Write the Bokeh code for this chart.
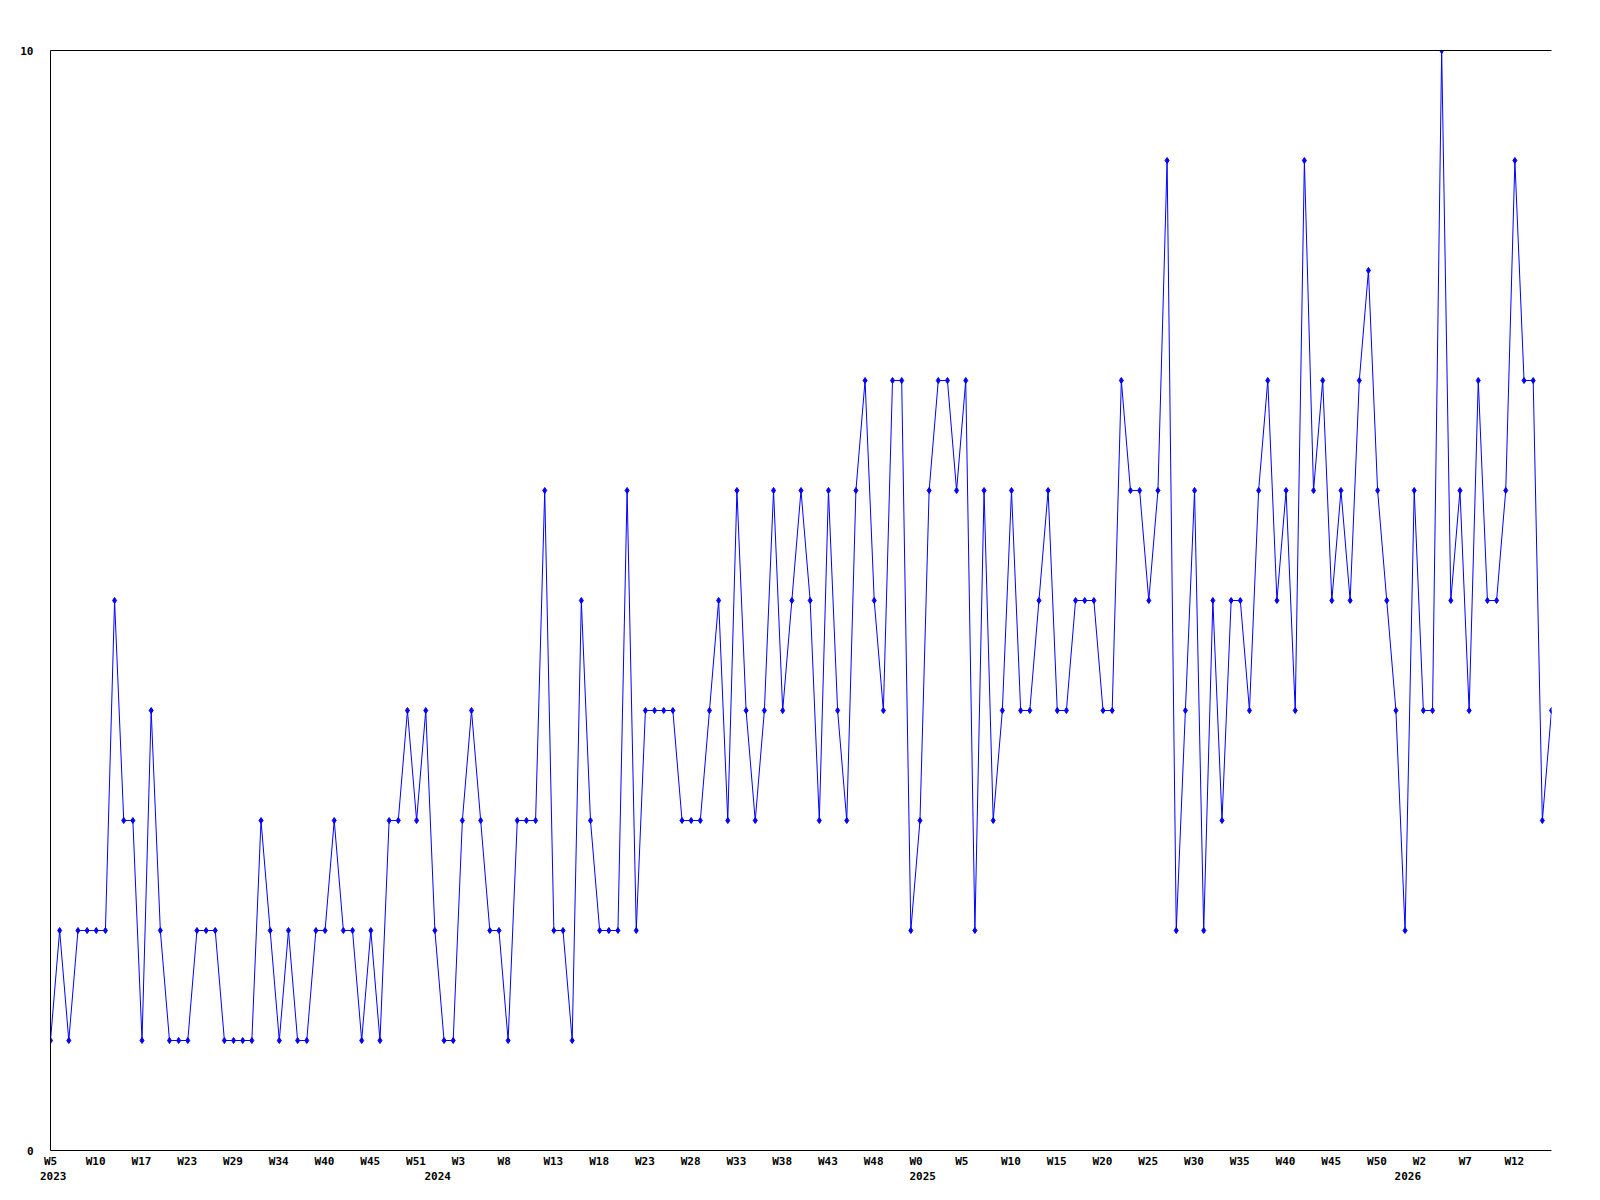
from bokeh.plotting import figure
from bokeh.models import FixedTicker, LinearAxis, Range1d
from bokeh.embed import file_html
from bokeh.resources import INLINE

# ---- data ----
values = [
    1, 2, 1, 2, 2, 2, 2, 5, 3, 3,
    1, 4, 2, 1, 1, 1, 2, 2, 2, 1,
    1, 1, 1, 3, 2, 1, 2, 1, 1, 2,
    2, 3, 2, 2, 1, 2, 1, 3, 3, 4,
    3, 4, 2, 1, 1, 3, 4, 3, 2, 2,
    1, 3, 3, 3, 6, 2, 2, 1, 5, 3,
    2, 2, 2, 6, 2, 4, 4, 4, 4, 3,
    3, 3, 4, 5, 3, 6, 4, 3, 4, 6,
    4, 5, 6, 5, 3, 6, 4, 3, 6, 7,
    5, 4, 7, 7, 2, 3, 6, 7, 7, 6,
    7, 2, 6, 3, 4, 6, 4, 4, 5, 6,
    4, 4, 5, 5, 5, 4, 4, 7, 6, 6,
    5, 6, 9, 2, 4, 6, 2, 5, 3, 5,
    5, 4, 6, 7, 5, 6, 4, 9, 6, 7,
    5, 6, 5, 7, 8, 6, 5, 4, 2, 6,
    4, 4, 10, 5, 6, 4, 7, 5, 5, 6,
    9, 7, 7, 3, 4,
]

week_labels = [
    "W5", "W10", "W17", "W23", "W29", "W34", "W40", "W45", "W51",
    "W3", "W8", "W13", "W18", "W23", "W28", "W33", "W38", "W43", "W48",
    "W0", "W5", "W10", "W15", "W20", "W25", "W30", "W35", "W40", "W45", "W50",
    "W2", "W7", "W12",
]
week_label_step = 5  # one week label every 5 points

year_labels = ["2023", "2024", "2025", "2026"]
year_label_points = [0, 42, 95, 148]

y_tick_values = [0, 10]
y_tick_labels = ["0", "10"]

# ---- layout / style ----
FONT = "DejaVu Sans Mono"
FONT_SIZE = 11
CHAR_W = 0.602 * FONT_SIZE      # monospace advance
LEFT_SHIFT = 10.5                # labels start this many px left of their point

W, H = 1592, 1192
BL, BR, BT, BB = 50, 41, 50, 42
n = len(values)
xs = list(range(n))
px_per_pt = (W - BL - BR) / (n - 1)


def anchored(idx, text):
    # centred tick so that the text starts LEFT_SHIFT px before its point,
    # kept inside the range so that the axis still draws it
    pos = idx + (len(text) * CHAR_W / 2 - LEFT_SHIFT) / px_per_pt
    return min(max(pos, 0), n - 1)


p = figure(width=W, height=H, output_backend="svg", toolbar_location=None,
           x_range=Range1d(0, n - 1), y_range=Range1d(0, 10),
           min_border_left=BL, min_border_right=BR,
           min_border_top=BT, min_border_bottom=BB,
           background_fill_color="white", border_fill_color="white")
p.outline_line_color = None
p.grid.visible = False

p.line(xs, values, line_color="#0000ff", line_width=1)
p.scatter(xs, values, marker="diamond", size=6,
          fill_color="#0000ff", line_color="#0000ff")


def style_axis(ax, standoff):
    ax.minor_tick_line_color = None
    ax.major_tick_line_color = None
    ax.major_tick_out = 0
    ax.major_tick_in = 0
    ax.major_label_standoff = standoff
    ax.major_label_text_font = FONT
    ax.major_label_text_font_size = f"{FONT_SIZE}px"
    ax.major_label_text_font_style = "bold"
    ax.major_label_text_color = "black"


# week axis
wk_pos = []
wk_over = {}
for k, lab in enumerate(week_labels):
    pos = anchored(k * week_label_step, lab)
    wk_pos.append(pos)
    wk_over[pos] = lab

xa = p.xaxis[0]
xa.ticker = FixedTicker(ticks=wk_pos)
xa.major_label_overrides = wk_over
xa.axis_line_color = "black"
style_axis(xa, 4)

# year axis
yr_pos = []
yr_over = {}
for idx, lab in zip(year_label_points, year_labels):
    pos = anchored(idx, lab)
    yr_pos.append(pos)
    yr_over[pos] = lab

xa2 = LinearAxis(ticker=FixedTicker(ticks=yr_pos), major_label_overrides=yr_over,
                 axis_line_color=None)
style_axis(xa2, 1)
p.add_layout(xa2, "below")

# y axis
ya = p.yaxis[0]
ya.ticker = FixedTicker(ticks=y_tick_values)
ya.major_label_overrides = {v: t for v, t in zip(y_tick_values, y_tick_labels)}
ya.axis_line_color = "black"
style_axis(ya, 17)

# top border line
top = LinearAxis(ticker=FixedTicker(ticks=[]), axis_line_color="black",
                 major_tick_line_color=None, minor_tick_line_color=None,
                 major_tick_out=0, major_tick_in=0, major_label_standoff=0)
p.add_layout(top, "above")

open("out.html", "w").write(file_html(p, INLINE))
